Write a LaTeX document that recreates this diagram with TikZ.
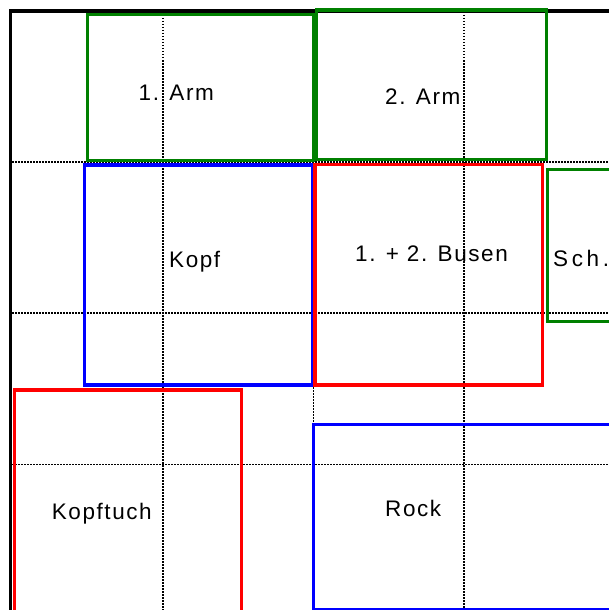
\documentclass[tikz,border=0pt]{standalone}
\usepackage{fontspec}
\setmainfont{Liberation Sans}[LetterSpace=7]
\newfontfamily\widefont{Liberation Sans}[LetterSpace=16]
\usepackage{xcolor}
\definecolor{armgreen}{RGB}{0,128,0}
\definecolor{partblue}{RGB}{0,0,255}
\definecolor{partred}{RGB}{255,0,0}

\begin{document}
\begin{tikzpicture}[x=1pt,y=-1pt,
  every node/.style={font=\fontsize{22.5}{26}\selectfont,inner sep=0pt,anchor=base west},
  gridline/.style={line width=1.8pt,dash pattern=on 1.5pt off 1.5pt},
  part/.style={line width=3.3pt}]
  \useasboundingbox (0,0) rectangle (609,610);
  \clip (0,0) rectangle (609,610);
  \foreach \p in {163,313.5,464} \draw[gridline] (\p,12) -- (\p,612);
  \foreach \p in {162,313,464.5} \draw[gridline] (12,\p) -- (612,\p);
  \draw[line width=3.5pt] (10.3,620) -- (10.3,10.8) -- (620,10.8);
  \draw[part,armgreen] (87.5,14.5) rectangle (313.5,160.7);
  \draw[part,armgreen] (316.5,10) rectangle (546.3,159.3);
  \draw[part,armgreen] (547.3,169.3) rectangle (620,321.7);
  \draw[part,partblue] (84.3,165) rectangle (312.3,385);
  \draw[part,partblue] (313.3,424.3) rectangle (620,609.3);
  \draw[part,partred] (315,164.3) rectangle (542.7,385);
  \draw[part,partred] (14.7,390) rectangle (241.3,620);
  \node (arm1) at (138.5,100) {1. Arm};
  \node (arm2) at (385,104) {2. Arm};
  \node (kopf) at (169,267) {Kopf};
  \node (busen) at (355,261) {1. + 2. Busen};
  \node[font=\widefont\fontsize{22.5}{26}\selectfont] (sch) at (553,266) {Sch.};
  \node (kopftuch) at (51.7,519.3) {Kopftuch};
  \node (rock) at (385,516) {Rock};
\end{tikzpicture}
\end{document}
